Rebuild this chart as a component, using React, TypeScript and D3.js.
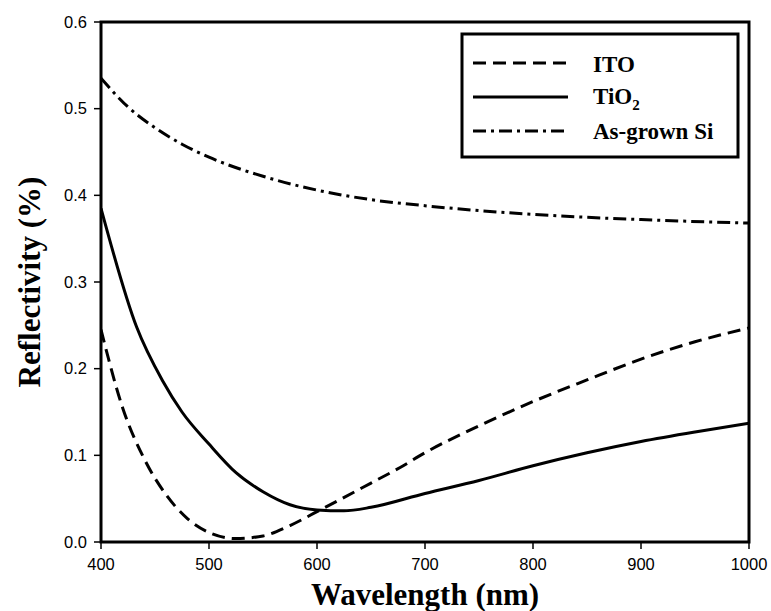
import React from 'react';
import * as d3 from 'd3';

// wavelength (nm) / reflectivity
const itoWl = [400, 420, 440, 460, 480, 500, 525, 550, 575, 600, 650, 677, 700, 750, 800, 850, 900, 950, 1000];
const itoR = [0.245, 0.155, 0.096, 0.055, 0.027, 0.011, 0.004, 0.007, 0.019, 0.035, 0.068, 0.086, 0.103, 0.134, 0.162, 0.187, 0.211, 0.231, 0.247];

const tioWl = [400, 433, 457, 475, 500, 525, 550, 575, 600, 625, 650, 700, 750, 800, 850, 900, 950, 1000];
const tioR = [0.385, 0.248, 0.186, 0.15, 0.113, 0.08, 0.058, 0.043, 0.037, 0.036, 0.04, 0.056, 0.071, 0.088, 0.103, 0.116, 0.127, 0.137];

const siWl = [400, 425, 450, 475, 500, 550, 600, 650, 700, 800, 900, 1000];
const siR = [0.535, 0.502, 0.478, 0.459, 0.444, 0.422, 0.406, 0.395, 0.388, 0.378, 0.372, 0.368];

const xTicks = [400, 500, 600, 700, 800, 900, 1000];
const yTicks = [0.0, 0.1, 0.2, 0.3, 0.4, 0.5, 0.6];

const series = [
  { name: 'ITO', wl: itoWl, r: itoR, dash: '13,7' },
  { name: 'TiO2', wl: tioWl, r: tioR, dash: null },
  { name: 'As-grown Si', wl: siWl, r: siR, dash: '13,5,3,5' },
];

const W = 771;
const H = 611;
const m = { left: 101, right: 749, top: 22, bottom: 542 };

export default function App() {
  const x = d3.scaleLinear().domain([400, 1000]).range([m.left, m.right]);
  const y = d3.scaleLinear().domain([0, 0.6]).range([m.bottom, m.top]);

  const line = d3
    .line<[number, number]>()
    .x(d => x(d[0]))
    .y(d => y(d[1]))
    .curve(d3.curveMonotoneX);

  const legendX = 473;
  const legendRows = [63, 97, 131];
  const textRows = [72, 104, 139];

  return (
    <svg
      width={W}
      height={H}
      style={{ position: 'absolute', left: 0, top: 0, background: '#fff' }}
    >
      <defs>
        <clipPath id="plot">
          <rect x={m.left} y={m.top} width={m.right - m.left} height={m.bottom - m.top} />
        </clipPath>
      </defs>

      {/* curves */}
      <g clipPath="url(#plot)" fill="none" stroke="#000" strokeWidth={3}>
        {series.map(s => (
          <path
            key={s.name}
            d={line(s.wl.map((w, i) => [w, s.r[i]] as [number, number])) || ''}
            strokeDasharray={s.dash || undefined}
          />
        ))}
      </g>

      {/* frame */}
      <g fill="none" stroke="#000" strokeWidth={3}>
        <path d={`M${m.left},${m.top}H${m.right}V${m.bottom}H${m.left}Z`} />
      </g>

      {/* ticks */}
      <g fontFamily="Liberation Sans, Arial, sans-serif" fontSize={16.5}>
        {yTicks.map(t => (
          <g key={t}>
            <line x1={m.left - 7} x2={m.left} y1={y(t)} y2={y(t)} stroke="#000" strokeWidth={1.5} />
            <text x={m.left - 14} y={y(t)} dy="0.35em" textAnchor="end">
              {d3.format('.1f')(t)}
            </text>
          </g>
        ))}
        {xTicks.map(t => (
          <g key={t}>
            <line x1={x(t)} x2={x(t)} y1={m.bottom} y2={m.bottom + 7} stroke="#000" strokeWidth={1.5} />
            <text x={x(t)} y={m.bottom + 28} textAnchor="middle">
              {t}
            </text>
          </g>
        ))}
      </g>

      {/* axis titles */}
      <g fontFamily="Liberation Serif, Times New Roman, serif" fontWeight="bold" fontSize={31}>
        <text x={(m.left + m.right) / 2} y={605} textAnchor="middle">
          Wavelength (nm)
        </text>
        <text
          transform={`translate(40,${(m.top + m.bottom) / 2}) rotate(-90)`}
          textAnchor="middle"
        >
          Reflectivity (%)
        </text>
      </g>

      {/* legend */}
      <g>
        <rect x={462} y={34} width={276} height={123} fill="#fff" stroke="#000" strokeWidth={3} />
        {series.map((s, i) => (
          <g key={s.name}>
            <line
              x1={legendX}
              x2={legendX + 95}
              y1={legendRows[i]}
              y2={legendRows[i]}
              stroke="#000"
              strokeWidth={3}
              strokeDasharray={s.dash || undefined}
            />
            <text
              x={593}
              y={textRows[i]}
              fontFamily="Liberation Serif, Times New Roman, serif"
              fontWeight="bold"
              fontSize={23}
            >
              {s.name === 'TiO2' ? (
                <>
                  TiO
                  <tspan fontSize={15} dy={6}>2</tspan>
                </>
              ) : (
                s.name
              )}
            </text>
          </g>
        ))}
      </g>
    </svg>
  );
}
